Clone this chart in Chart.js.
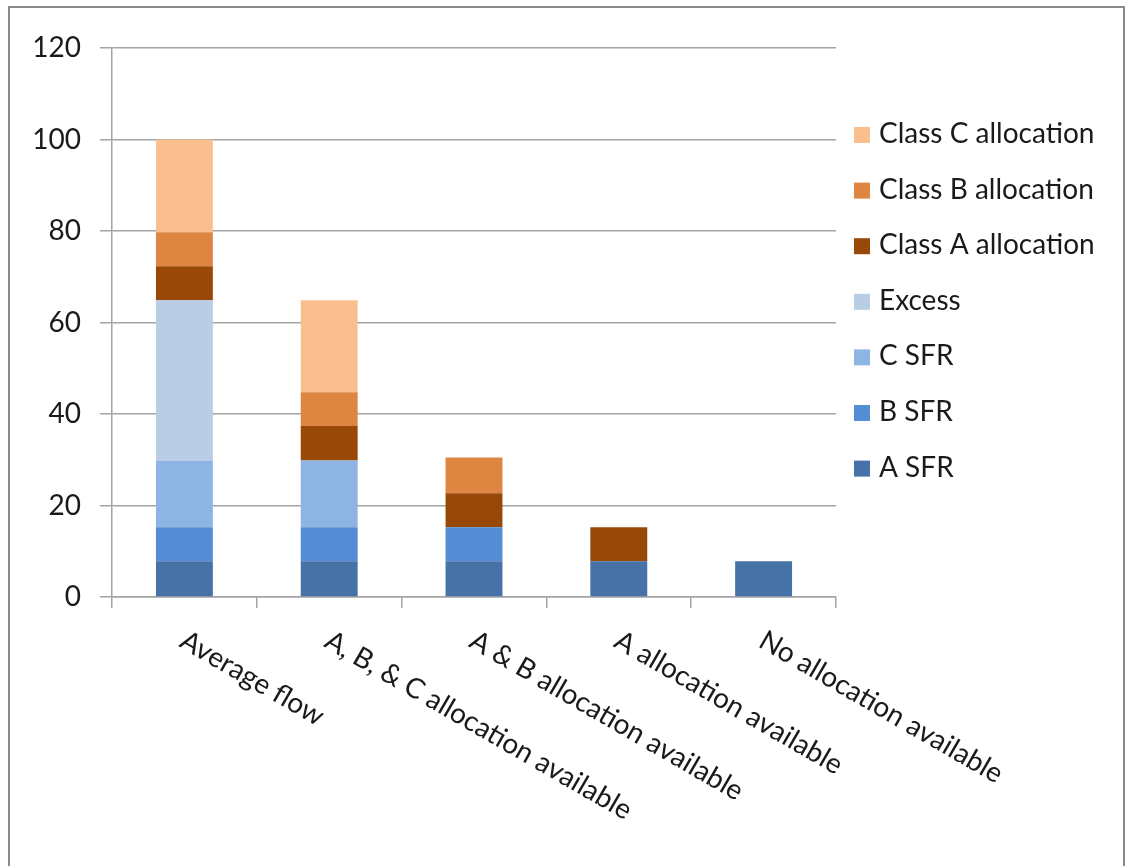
<!DOCTYPE html>
<html>
<head>
<meta charset="utf-8">
<script src="https://cdn.jsdelivr.net/npm/chart.js@4/dist/chart.umd.min.js"></script>
<style>
  html, body { margin: 0; padding: 0; background: #ffffff; }
  #wrap { position: relative; width: 1126px; height: 866px; }
  canvas { display: block; }
</style>
</head>
<body>
<div id="wrap"><canvas id="chart" width="1126" height="866"></canvas></div>
<script>
// Flow scenarios along the x axis
const categories = [
  "Average flow",
  "A, B, & C allocation available",
  "A & B allocation available",
  "A allocation available",
  "No allocation available"
];

// Stacked components, bottom to top
const aSFR      = [7.8, 7.8, 7.8, 7.8, 7.8];
const bSFR      = [7.45, 7.45, 7.45, null, null];
const cSFR      = [14.6, 14.6, null, null, null];
const excess    = [35, null, null, null, null];
const classA    = [7.45, 7.5, 7.45, 7.45, null];
const classB    = [7.4, 7.4, 7.8, null, null];
const classC    = [20.3, 20.1, null, null, null];

const seriesNames  = ["A SFR", "B SFR", "C SFR", "Excess", "Class A allocation", "Class B allocation", "Class C allocation"];
const seriesValues = [aSFR, bSFR, cSFR, excess, classA, classB, classC];
const seriesColors = ["#4672A7", "#548DD4", "#8EB4E3", "#B9CDE5", "#984807", "#DE8541", "#F9BF8F"];

const yTicks = [0, 20, 40, 60, 80, 100, 120];

const FONT = "Lato, 'Liberation Sans', sans-serif";
const TEXT_COLOR = "#1a1a1a";
const GRID_COLOR = "#a3a3a3";

// Outer frame of the chart
const framePlugin = {
  id: "frame",
  beforeDraw(chart) {
    const ctx = chart.ctx;
    ctx.save();
    ctx.strokeStyle = "#8a8a8a";
    ctx.lineWidth = 2;
    ctx.beginPath();
    ctx.moveTo(9, chart.height + 5);
    ctx.lineTo(9, 7);
    ctx.lineTo(1124, 7);
    ctx.lineTo(1124, chart.height + 5);
    ctx.stroke();
    ctx.restore();
  }
};

// Category labels slanted downwards to the right, starting at each category
const slantLabels = {
  id: "slantLabels",
  afterDraw(chart) {
    const ctx = chart.ctx;
    const xs = chart.scales.x;
    ctx.save();
    ctx.font = "28px " + FONT;
    ctx.fillStyle = TEXT_COLOR;
    ctx.textAlign = "left";
    ctx.textBaseline = "top";
    categories.forEach((label, i) => {
      const x = xs.getPixelForValue(i);
      ctx.save();
      ctx.translate(x + 5, xs.top + 29);
      ctx.rotate(30 * Math.PI / 180);
      ctx.fillText(label, 0, 0);
      ctx.restore();
    });
    ctx.restore();
  }
};

// Legend column on the right, top entry is the top of the stack
const sideLegend = {
  id: "sideLegend",
  afterDraw(chart) {
    const ctx = chart.ctx;
    const area = chart.chartArea;
    const x0 = area.right + 18;
    const y0 = 134;
    const step = 55.6;
    const box = 16;
    ctx.save();
    ctx.font = "28px " + FONT;
    ctx.textAlign = "left";
    ctx.textBaseline = "middle";
    const ds = chart.data.datasets.slice().reverse();
    ds.forEach((d, k) => {
      const cy = y0 + k * step;
      ctx.fillStyle = d.backgroundColor;
      ctx.fillRect(x0, cy - box / 2 + 1, box, box);
      ctx.fillStyle = TEXT_COLOR;
      ctx.fillText(d.label, x0 + box + 9, cy);
    });
    ctx.restore();
  }
};

new Chart(document.getElementById("chart"), {
  type: "bar",
  data: {
    labels: categories,
    datasets: seriesNames.map((name, i) => ({
      label: name,
      data: seriesValues[i],
      backgroundColor: seriesColors[i],
      borderWidth: 0,
      categoryPercentage: 1,
      barPercentage: 0.393
    }))
  },
  options: {
    responsive: false,
    animation: false,
    layout: { padding: { left: 0, top: 48, right: 290, bottom: 0 } },
    plugins: {
      legend: { display: false },
      tooltip: { enabled: false }
    },
    scales: {
      x: {
        stacked: true,
        grid: {
          offset: true,
          drawOnChartArea: false,
          drawTicks: true,
          tickLength: 11,
          color: GRID_COLOR,
          lineWidth: 1.5
        },
        border: { display: true, color: GRID_COLOR, width: 1.5 },
        ticks: { display: false },
        afterFit(scale) { scale.height = 866 - 597; }
      },
      y: {
        stacked: true,
        min: 0,
        max: 120,
        afterBuildTicks(scale) { scale.ticks = yTicks.map(v => ({ value: v })); },
        grid: {
          drawTicks: true,
          tickLength: 12,
          color: GRID_COLOR,
          lineWidth: 1.5
        },
        border: { display: true, color: GRID_COLOR, width: 1.5 },
        ticks: {
          padding: 19,
          color: TEXT_COLOR,
          font: { family: FONT, size: 28 }
        },
        afterFit(scale) { scale.width = 112; }
      }
    }
  },
  plugins: [framePlugin, slantLabels, sideLegend]
});
</script>
</body>
</html>
